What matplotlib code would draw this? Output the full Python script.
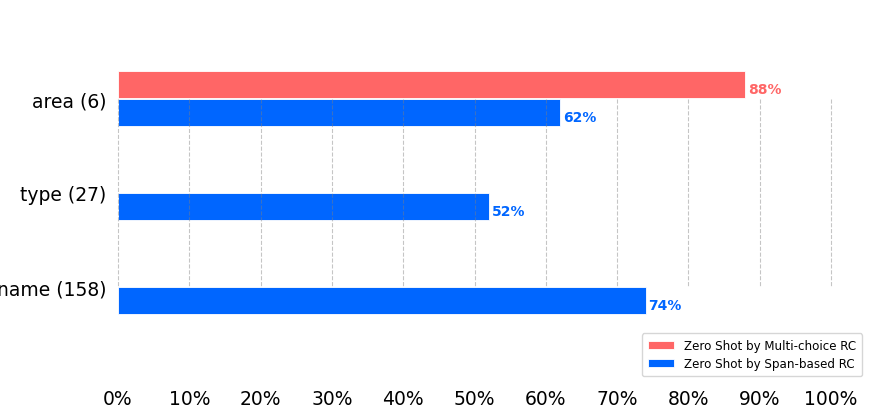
import numpy as np
import matplotlib.pyplot as plt

categories = ["area (6)", "type (27)", "name (158)"]
multi_choice = [88, None, None]
span_based = [62, 52, 74]
xticks = [0, 10, 20, 30, 40, 50, 60, 70, 80, 90, 100]
series_names = ["Zero Shot by Multi-choice RC", "Zero Shot by Span-based RC"]

red = "#ff6666"
blue = "#0066ff"

fig = plt.figure(figsize=(8.72, 4.1), dpi=100)
W, H = 872, 410
ax = fig.add_axes([118 / W, 1 - 385 / H, 713 / W, 345 / H])

pos = np.arange(len(categories))
h = 0.285

# bars
for i, v in enumerate(multi_choice):
    if v is None:
        continue
    ax.barh(pos[i] - 0.155, v, height=h, color=red, edgecolor="white", linewidth=0.6,
            label=series_names[0] if i == 0 else None, zorder=2)
    ax.annotate(f"{v}%", (v, pos[i] - 0.155), xytext=(2, -3.5), textcoords="offset points",
                ha="left", va="center", color=red, fontsize=10, fontweight="bold")

for i, v in enumerate(span_based):
    ax.barh(pos[i] + 0.14, v, height=h, color=blue, edgecolor="white", linewidth=0.6,
            label=series_names[1] if i == 0 else None, zorder=2)
    ax.annotate(f"{v}%", (v, pos[i] + 0.14), xytext=(2, -3.5), textcoords="offset points",
                ha="left", va="center", color=blue, fontsize=10, fontweight="bold")

# dashed guide lines between first and last category
ax.vlines(xticks, pos[0], pos[-1], colors="grey", linestyles="--", linewidth=0.8,
          alpha=0.45, zorder=3, clip_on=False)

ax.set_xlim(0, 100)
ax.set_ylim(3.032, -0.638)
ax.set_yticks(pos)
ax.set_yticklabels(categories, fontsize=13.5)
ax.set_xticks(xticks)
ax.set_xticklabels([f"{t}%" for t in xticks], fontsize=13.5)
ax.tick_params(axis="y", length=0, pad=8.5)
ax.tick_params(axis="x", length=0, pad=3.5)
for s in ax.spines.values():
    s.set_visible(False)

ax.legend(loc="lower right", bbox_to_anchor=(862 / W, 1 - 377 / H),
          bbox_transform=fig.transFigure, fontsize=8.6, handlelength=2.2,
          borderpad=0.5, labelspacing=0.4, borderaxespad=0)

fig.savefig("out.png", dpi=100)
